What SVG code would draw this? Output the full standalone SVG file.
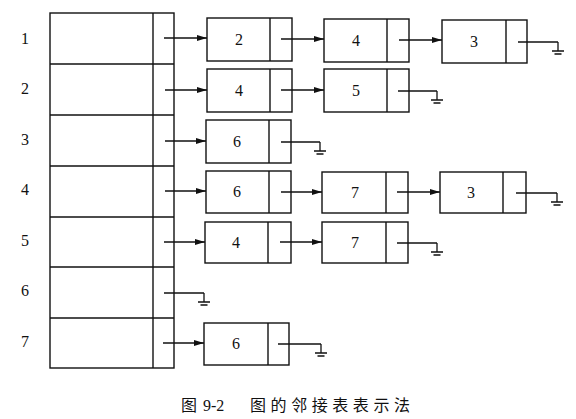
<svg xmlns="http://www.w3.org/2000/svg" width="576" height="419" viewBox="0 0 576 419">
<style>
.ln{stroke:#111;stroke-width:1.4;fill:none}
.bx{stroke:#111;stroke-width:1.4;fill:#fff}
.t{font-family:"Liberation Serif",serif;font-size:16px;fill:#111;text-anchor:middle}
.c{font-family:"Liberation Serif","Noto Sans CJK SC",sans-serif;font-size:16px;fill:#111}
</style>
<defs>
<marker id="ar" viewBox="0 0 10 8" refX="10" refY="4" markerWidth="10" markerHeight="8" markerUnits="userSpaceOnUse" orient="auto">
<path d="M0,1 L10,4 L0,7 Z" fill="#111"/>
</marker>
<g id="gnd"><path d="M0,0 V9 M-6,9 H6 M-3.5,12 H3.5" stroke="#111" stroke-width="1.3" fill="none"/></g>
</defs>
<rect width="576" height="419" fill="#fff"/>
<g id="table">
<rect class="bx" x="50" y="13" width="124" height="355"/>
<line class="ln" x1="153" y1="13" x2="153" y2="368"/>
<line class="ln" x1="50" y1="64" x2="174" y2="64"/>
<line class="ln" x1="50" y1="115" x2="174" y2="115"/>
<line class="ln" x1="50" y1="166" x2="174" y2="166"/>
<line class="ln" x1="50" y1="217" x2="174" y2="217"/>
<line class="ln" x1="50" y1="267" x2="174" y2="267"/>
<line class="ln" x1="50" y1="318" x2="174" y2="318"/>
<text class="t" x="25" y="44">1</text>
<text class="t" x="25" y="94">2</text>
<text class="t" x="25" y="145">3</text>
<text class="t" x="25" y="195">4</text>
<text class="t" x="25" y="246">5</text>
<text class="t" x="25" y="296">6</text>
<text class="t" x="25" y="347">7</text>
</g>
<g id="n1a"><rect class="bx" x="207" y="18" width="85" height="43"/><line class="ln" x1="270" y1="18" x2="270" y2="61"/><text class="t" x="239" y="45">2</text></g>
<g id="n1b"><rect class="bx" x="324" y="19" width="85" height="43"/><line class="ln" x1="387" y1="19" x2="387" y2="62"/><text class="t" x="356" y="46">4</text></g>
<g id="n1c"><rect class="bx" x="442" y="20" width="85" height="43"/><line class="ln" x1="506" y1="20" x2="506" y2="63"/><text class="t" x="474" y="47">3</text></g>
<g id="n2a"><rect class="bx" x="207" y="69" width="85" height="43"/><line class="ln" x1="270" y1="69" x2="270" y2="112"/><text class="t" x="239" y="96">4</text></g>
<g id="n2b"><rect class="bx" x="324" y="69" width="85" height="43"/><line class="ln" x1="387" y1="69" x2="387" y2="112"/><text class="t" x="356" y="96">5</text></g>
<g id="n3a"><rect class="bx" x="206" y="120" width="85" height="43"/><line class="ln" x1="269" y1="120" x2="269" y2="163"/><text class="t" x="237" y="147">6</text></g>
<g id="n4a"><rect class="bx" x="206" y="171" width="85" height="42"/><line class="ln" x1="269" y1="171" x2="269" y2="213"/><text class="t" x="237" y="197">6</text></g>
<g id="n4b"><rect class="bx" x="322" y="172" width="86" height="41"/><line class="ln" x1="386" y1="172" x2="386" y2="213"/><text class="t" x="355" y="198">7</text></g>
<g id="n4c"><rect class="bx" x="440" y="172" width="86" height="41"/><line class="ln" x1="503" y1="172" x2="503" y2="213"/><text class="t" x="471" y="198">3</text></g>
<g id="n5a"><rect class="bx" x="205" y="222" width="86" height="41"/><line class="ln" x1="268" y1="222" x2="268" y2="263"/><text class="t" x="236" y="248">4</text></g>
<g id="n5b"><rect class="bx" x="322" y="222" width="86" height="41"/><line class="ln" x1="386" y1="222" x2="386" y2="263"/><text class="t" x="355" y="248">7</text></g>
<g id="n7a"><rect class="bx" x="204" y="323" width="85" height="42"/><line class="ln" x1="268" y1="323" x2="268" y2="365"/><text class="t" x="236" y="349">6</text></g>
<g id="connectors">
<line class="ln" x1="164" y1="38" x2="207" y2="38" marker-end="url(#ar)"/>
<line class="ln" x1="281" y1="39" x2="324" y2="39" marker-end="url(#ar)"/>
<line class="ln" x1="399" y1="40" x2="442" y2="40" marker-end="url(#ar)"/>
<line class="ln" x1="518" y1="42" x2="558" y2="42"/><use href="#gnd" x="558" y="42"/>
<line class="ln" x1="165" y1="90" x2="207" y2="90" marker-end="url(#ar)"/>
<line class="ln" x1="281" y1="90" x2="324" y2="90" marker-end="url(#ar)"/>
<line class="ln" x1="398" y1="91" x2="437" y2="91"/><use href="#gnd" x="437" y="91"/>
<line class="ln" x1="165" y1="141" x2="206" y2="141" marker-end="url(#ar)"/>
<line class="ln" x1="281" y1="142" x2="320" y2="142"/><use href="#gnd" x="320" y="142"/>
<line class="ln" x1="165" y1="191" x2="206" y2="191" marker-end="url(#ar)"/>
<line class="ln" x1="281" y1="192" x2="322" y2="192" marker-end="url(#ar)"/>
<line class="ln" x1="397" y1="192" x2="440" y2="192" marker-end="url(#ar)"/>
<line class="ln" x1="516" y1="193" x2="557" y2="193"/><use href="#gnd" x="557" y="193"/>
<line class="ln" x1="164" y1="242" x2="205" y2="242" marker-end="url(#ar)"/>
<line class="ln" x1="280" y1="242" x2="322" y2="242" marker-end="url(#ar)"/>
<line class="ln" x1="397" y1="243" x2="437" y2="243"/><use href="#gnd" x="437" y="243"/>
<line class="ln" x1="164" y1="293" x2="204" y2="293"/><use href="#gnd" x="204" y="293"/>
<line class="ln" x1="163" y1="343" x2="204" y2="343" marker-end="url(#ar)"/>
<line class="ln" x1="278" y1="344" x2="321" y2="344"/><use href="#gnd" x="321" y="344"/>
</g>
<text class="c" x="181" y="411">图 <tspan x="203">9-2</tspan></text>
<text class="c" x="250" y="411" textLength="160" lengthAdjust="spacing">图的邻接表表示法</text>
</svg>
